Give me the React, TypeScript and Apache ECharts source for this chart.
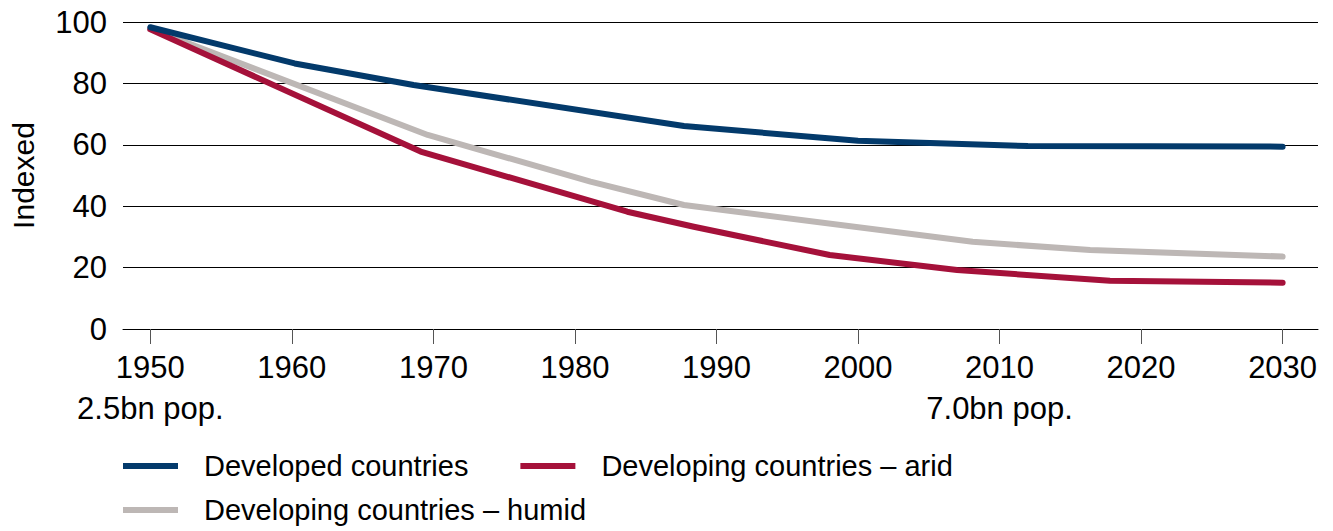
import React, { useEffect, useRef } from "react";
import * as echarts from "echarts";

const xTicks = [1950, 1960, 1970, 1980, 1990, 2000, 2010, 2020, 2030];
const yTicks = [0, 20, 40, 60, 80, 100];
const popNotes: Record<number, string> = { 1950: "2.5bn pop.", 2010: "7.0bn pop." };

const seriesNames = ["Developed countries", "Developing countries – arid", "Developing countries – humid"];

const developedYears = [1950, 1960.2, 1968.6, 1987.7, 2000, 2012, 2030];
const developedValues = [98.3, 86.5, 79.5, 66.1, 61.3, 59.6, 59.4];

const aridYears = [1950, 1969.1, 1983.7, 1988.4, 1998, 2007, 2017.8, 2030];
const aridValues = [97.6, 57.8, 38.2, 33.3, 24.1, 19.2, 15.7, 15.1];

const humidYears = [1950, 1969.6, 1981.1, 1987.7, 2008.1, 2016.4, 2030];
const humidValues = [97.8, 63.2, 48.0, 40.4, 28.4, 25.7, 23.6];

const colors = ["#033a6b", "#a5113a", "#bdb7b5"];

const zip = (xs: number[], ys: number[]) => xs.map((x, i) => [x, ys[i]]);

export default function App() {
  const ref = useRef<HTMLDivElement>(null);
  useEffect(() => {
    document.body.style.margin = "0";
    if (!ref.current) return;
    const chart = echarts.init(ref.current, null, { renderer: "svg" });
    const font = "Liberation Sans, Arial, sans-serif";
    const mkSeries = (name: string, data: number[][], color: string, z: number) => ({
      name,
      type: "line",
      data,
      showSymbol: false,
      symbol: "none",
      z,
      lineStyle: { color, width: 6, cap: "round", join: "round" },
      itemStyle: { color },
    });
    const legendCommon = {
      icon: "rect",
      itemWidth: 55,
      itemHeight: 6,
      itemGap: 52,
      padding: 0,
      orient: "horizontal",
      textStyle: {
        fontFamily: font,
        fontSize: 29,
        color: "#000",
        padding: [0, 0, 0, 21],
        lineHeight: 34,
      },
    };
    chart.setOption({
      animation: false,
      color: colors,
      textStyle: { fontFamily: font },
      grid: { left: 122, right: 15, top: 22, bottom: 202, containLabel: false },
      legend: [
        { ...legendCommon, left: 123, top: 449, data: [seriesNames[0], seriesNames[1]] },
        { ...legendCommon, left: 123, top: 493, data: [seriesNames[2]] },
      ],
      xAxis: {
        type: "value",
        min: 1948.07,
        max: 2032.5,
        splitLine: { show: false },
        axisLine: { show: true, lineStyle: { color: "#000", width: 1 } },
        axisTick: {
          show: true,
          customValues: xTicks,
          length: 15,
          inside: false,
          lineStyle: { color: "#555", width: 1 },
        },
        axisLabel: {
          customValues: xTicks,
          fontSize: 31,
          color: "#000",
          fontFamily: font,
          lineHeight: 41,
          margin: 18,
          formatter: (v: number) => (popNotes[v] ? `${v}\n${popNotes[v]}` : String(v)),
        },
      },
      yAxis: {
        type: "value",
        min: 0,
        max: 100,
        interval: 20,
        name: "Indexed",
        nameLocation: "middle",
        nameGap: 85,
        nameRotate: 90,
        nameTextStyle: { fontSize: 30, color: "#000", fontFamily: font },
        axisLine: { show: false },
        axisTick: { show: false },
        splitLine: { show: true, lineStyle: { color: "#000", width: 1 } },
        axisLabel: {
          fontSize: 31,
          color: "#000",
          fontFamily: font,
          margin: 16,
          customValues: yTicks,
        },
      },
      series: [
        mkSeries(seriesNames[2], zip(humidYears, humidValues), colors[2], 2),
        mkSeries(seriesNames[1], zip(aridYears, aridValues), colors[1], 3),
        mkSeries(seriesNames[0], zip(developedYears, developedValues), colors[0], 4),
      ],
    });
    return () => chart.dispose();
  }, []);
  return <div ref={ref} style={{ width: 1333, height: 531 }} />;
}
